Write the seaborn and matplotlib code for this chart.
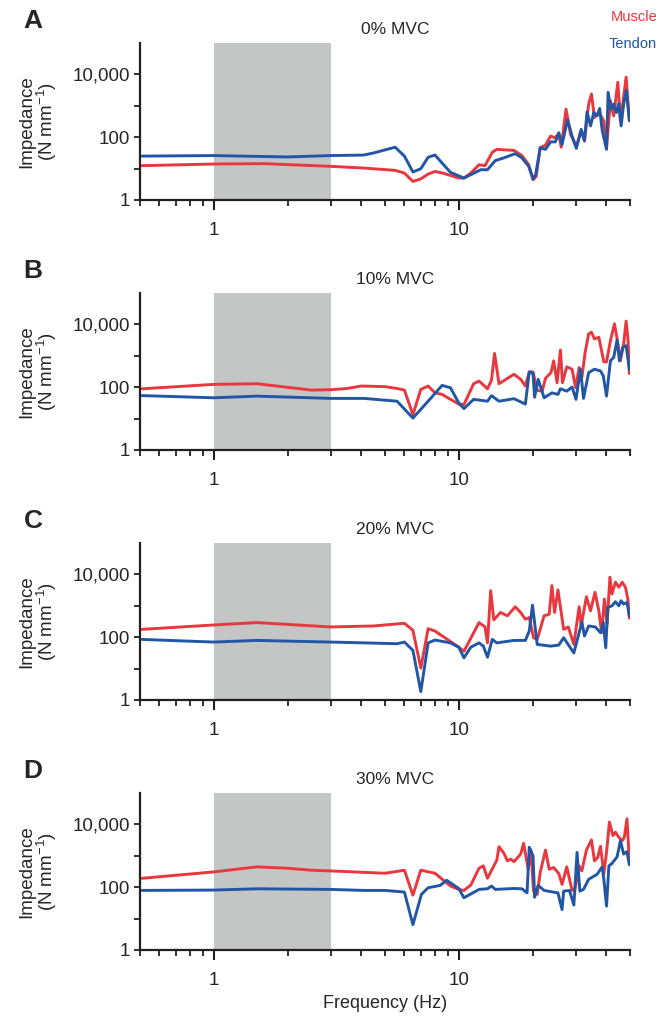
import matplotlib
matplotlib.use("Agg")
import matplotlib.pyplot as plt
from matplotlib.ticker import FixedLocator, FixedFormatter, NullFormatter
import pandas as pd
import seaborn as sns

# Impedance spectra (N/mm), per contraction level
freq_muscle_a = [0.51, 1.0, 1.6, 3.0, 4.1, 5.5, 6.0, 6.5, 7.0, 7.5, 8.0, 8.6, 10.0, 10.5, 11.2, 12.1, 12.8,
                 13.7, 14.3, 16.8, 18.1, 19.3, 20.1, 20.7, 21.5, 22.6, 23.7, 24.6, 25.6, 26.2, 27.4, 28.6,
                 30.2, 31.6, 32.6, 33.9, 34.8, 35.8, 37.3, 39.1, 40.1, 41.6, 42.9, 44.6, 45.7, 46.9, 48.2, 49.7]
z_muscle_a = [12.4, 14, 14.4, 11.8, 10.4, 8.8, 7.2, 3.9, 4.7, 6.7, 8.1, 7.2, 5.0, 5.0, 7.2, 13.3, 12.4,
              33, 41, 38, 26, 13.3, 4.4, 5.6, 46, 56, 109, 96, 123, 48, 783, 123,
              52, 157, 75, 1135, 2380, 423, 612, 330, 46, 1450, 479, 5640, 330, 1450, 8170, 330]
freq_tendon_a = [0.51, 1.0, 2.0, 3.0, 4.1, 4.5, 5.5, 6.0, 6.5, 7.0, 7.5, 8.0, 8.55, 9.25, 10.5, 12.3, 13.1,
                 14.1, 15.3, 17.0, 18.1, 19.3, 20.1, 20.6, 21.5, 22.6, 23.7, 24.8, 25.6, 26.4, 27.8, 29.0,
                 30.2, 31.6, 32.6, 33.4, 34.5, 35.6, 36.7, 37.6, 38.5, 40.1, 40.7, 41.8, 42.9, 44.0, 45.0,
                 46.0, 47.1, 48.3, 49.7]
z_tendon_a = [25, 26, 23.5, 26, 27, 31.6, 48, 25, 7.8, 9.9, 23, 27, 15, 7.6, 5.0, 9.2, 9.2,
              18, 22, 30, 22, 11.8, 4.7, 6.4, 46, 41, 71, 71, 139, 59, 356, 109,
              44, 178, 79, 643, 228, 612, 479, 823, 166, 41, 2690, 783, 1135, 612, 1190,
              228, 1135, 3040, 347]

freq_muscle_b = [0.51, 1.0, 1.5, 2.5, 3.0, 3.5, 4.0, 5.0, 5.6, 6.0, 6.5, 7.0, 7.5, 8.0, 8.55, 9.25, 10.0,
                 10.5, 11.5, 12.1, 13.1, 13.6, 14.0, 14.6, 16.8, 17.9, 18.7, 19.4, 20.1, 20.9, 21.9, 22.6,
                 23.8, 24.4, 25.2, 26.0, 26.5, 27.6, 29.0, 30.0, 31.0, 31.8, 32.8, 33.9, 34.8, 35.8, 37.3,
                 39.1, 40.1, 41.6, 43.2, 44.3, 45.7, 47.1, 48.2, 49.1, 49.7]
z_muscle_b = [89, 123, 129, 81, 83, 91, 109, 104, 91, 81, 13.3, 85, 109, 66, 59, 41, 29,
              28, 129, 157, 89, 166, 1190, 129, 258, 178, 109, 307, 307, 79, 75, 192,
              292, 692, 139, 1525, 139, 444, 374, 96, 423, 201, 1283, 4990, 5640, 3440, 3900,
              643, 640, 3040, 10450, 3440, 692, 2380, 12700, 3040, 271]
freq_tendon_b = [0.51, 1.0, 1.5, 3.0, 4.1, 5.6, 6.5, 7.5, 8.55, 9.25, 10.0, 10.5, 11.5, 13.1, 13.6, 14.6,
                 16.8, 18.7, 19.4, 20.1, 20.4, 21.1, 22.3, 24.0, 25.4, 26.0, 27.6, 29.0, 30.1, 31.4, 32.3,
                 33.9, 35.8, 37.9, 38.9, 40.1, 41.6, 42.9, 44.3, 45.3, 46.7, 48.2, 49.7]
z_tendon_b = [54, 46, 52, 44, 44, 35.8, 10.4, 35.8, 114, 96, 31.6, 20.8, 41, 35.8, 54, 35.8,
              43, 29, 307, 271, 48, 178, 46, 66, 59, 89, 75, 101, 41, 374, 44,
              292, 374, 330, 228, 52, 692, 886, 3200, 692, 1858, 2100, 374]

freq_muscle_c = [0.51, 1.0, 1.5, 3.0, 4.5, 6.0, 6.5, 7.0, 7.5, 8.0, 10.0, 10.5, 12.1, 12.8, 13.1, 13.5,
                 13.9, 14.8, 15.8, 17.0, 17.9, 18.7, 19.4, 20.2, 20.9, 22.3, 23.4, 24.0, 24.6, 25.4, 26.2,
                 26.8, 28.0, 29.5, 31.0, 31.6, 33.2, 34.5, 36.0, 37.3, 38.3, 39.3, 40.3, 41.4, 42.2, 43.6,
                 45.0, 46.5, 47.9, 49.0, 49.7]
z_muscle_c = [178, 245, 292, 212, 228, 278, 166, 10.4, 187, 157, 48, 35.8, 292, 212, 66, 3040,
              356, 612, 479, 931, 612, 374, 423, 96, 85, 479, 539, 4410, 612, 3200, 612,
              178, 212, 59, 931, 228, 1950, 692, 2690, 692, 139, 1640, 258, 8170, 2380, 5640,
              3900, 5640, 3900, 1640, 402]
freq_tendon_c = [0.51, 1.0, 1.5, 3.0, 4.1, 5.6, 6.0, 6.5, 7.0, 7.5, 8.0, 9.25, 10.0, 10.5, 11.2, 12.1,
                 12.6, 13.1, 13.7, 14.3, 16.8, 18.7, 19.4, 20.0, 20.9, 23.7, 25.6, 26.8, 29.5, 31.0, 31.8,
                 32.6, 33.9, 36.1, 37.9, 38.9, 39.8, 40.6, 42.2, 43.6, 45.0, 46.0, 47.1, 48.6, 49.7]
z_tendon_c = [85, 70, 79, 70, 66, 62, 70, 38, 1.85, 66, 81, 66, 48, 22, 48, 66,
              52, 23, 85, 66, 79, 79, 157, 1052, 59, 52, 56, 96, 31.6, 139, 307,
              109, 228, 212, 139, 292, 46, 886, 1002, 1350, 1002, 1450, 1135, 1283, 479]

freq_muscle_d = [0.51, 1.0, 1.5, 2.0, 2.5, 3.0, 5.0, 6.0, 6.5, 7.0, 8.0, 9.25, 10.0, 10.5, 11.2, 12.1,
                 12.6, 13.1, 14.3, 14.6, 15.3, 15.8, 16.3, 16.8, 17.9, 18.4, 19.2, 19.7, 20.2, 20.9, 21.5,
                 22.6, 23.4, 24.4, 25.6, 26.4, 27.6, 29.0, 29.8, 31.0, 31.8, 33.2, 34.8, 35.8, 36.9, 37.9,
                 39.1, 40.1, 41.2, 42.6, 43.6, 45.0, 46.5, 47.4, 48.6, 49.7]
z_muscle_d = [192, 307, 444, 402, 347, 330, 278, 347, 56, 347, 278, 109, 85, 79, 117, 402,
              479, 192, 727, 1950, 1190, 692, 783, 652, 1135, 2500, 374, 1525, 75, 59, 292,
              1525, 374, 423, 271, 123, 444, 79, 85, 479, 330, 1525, 3200, 692, 886, 2000,
              271, 1283, 11820, 4410, 5640, 3900, 3040, 3900, 15140, 692]
freq_tendon_d = [0.51, 1.0, 1.5, 3.0, 4.1, 5.0, 6.0, 6.5, 7.04, 7.5, 8.4, 8.93, 10.0, 10.5, 12.1, 13.1,
                 13.6, 14.1, 16.8, 18.1, 19.0, 19.4, 20.1, 20.4, 21.1, 22.3, 24.0, 25.4, 26.4, 26.8, 28.3,
                 29.5, 30.4, 31.2, 32.3, 33.9, 36.7, 38.5, 39.1, 40.1, 41.0, 42.2, 44.3, 45.7, 47.1, 48.6,
                 49.7]
z_tendon_d = [79, 81, 89, 85, 79, 79, 70, 6.4, 59, 96, 114, 166, 91, 46, 85, 89,
              109, 85, 91, 89, 66, 1858, 1002, 48, 114, 79, 71, 66, 19.3, 75, 79,
              27, 1283, 75, 85, 178, 258, 444, 178, 25, 479, 568, 931, 3040, 1135, 1350,
              515]

panel_letters = ["A", "B", "C", "D"]
panel_titles = ["0% MVC", "10% MVC", "20% MVC", "30% MVC"]
series_names = ["Muscle", "Tendon"]
shaded_band = (1, 3)  # Hz

RED = "#e8373e"
BLUE = "#2156a5"
GREY = "#c4c5c5"

sns.set_style("ticks")
plt.rcParams["font.family"] = ["Liberation Sans", "DejaVu Sans"]
plt.rcParams["mathtext.fontset"] = "custom"
plt.rcParams["mathtext.rm"] = "Liberation Sans"
plt.rcParams["mathtext.it"] = "Liberation Sans"

panels = [
    (freq_muscle_a, z_muscle_a, freq_tendon_a, z_tendon_a),
    (freq_muscle_b, z_muscle_b, freq_tendon_b, z_tendon_b),
    (freq_muscle_c, z_muscle_c, freq_tendon_c, z_tendon_c),
    (freq_muscle_d, z_muscle_d, freq_tendon_d, z_tendon_d),
]

W, H = 659, 1023
fig = plt.figure(figsize=(W / 100, H / 100), dpi=100)

ax_left, ax_right = 140, 630
ax_tops = [43, 293, 543, 793]
ax_h = 157

for i, (fm, zm, ft, zt) in enumerate(panels):
    top = ax_tops[i]
    ax = fig.add_axes([ax_left / W, 1 - (top + ax_h) / H, (ax_right - ax_left) / W, ax_h / H])
    ax.set_xscale("log")
    ax.set_yscale("log")

    df = pd.concat([
        pd.DataFrame({"freq": fm, "impedance": zm, "series": series_names[0]}),
        pd.DataFrame({"freq": ft, "impedance": zt, "series": series_names[1]}),
    ], ignore_index=True)

    ax.axvspan(*shaded_band, color=GREY, lw=0, zorder=0)
    sns.lineplot(data=df, x="freq", y="impedance", hue="series", hue_order=series_names,
                 palette={"Muscle": RED, "Tendon": BLUE}, estimator=None, sort=False,
                 legend=False, linewidth=2.1, ax=ax, zorder=2)

    ax.set_xlim(0.5, 50)
    ax.set_ylim(1, 1e5)

    # x ticks: labelled 1 and 10, unlabelled minors
    ax.xaxis.set_major_locator(FixedLocator([1, 10]))
    ax.xaxis.set_major_formatter(FixedFormatter(["1", "10"]))
    ax.xaxis.set_minor_locator(FixedLocator([0.5, 0.6, 0.7, 0.8, 0.9, 2, 3, 4, 5, 6, 7, 8, 9,
                                             20, 30, 40, 50]))
    ax.xaxis.set_minor_formatter(NullFormatter())
    ax.yaxis.set_major_locator(FixedLocator([1, 100, 10000]))
    ax.yaxis.set_major_formatter(FixedFormatter(["1", "100", "10,000"]))
    ax.yaxis.set_minor_locator(FixedLocator([10, 1000]))
    ax.yaxis.set_minor_formatter(NullFormatter())

    ax.tick_params(axis="x", which="major", length=7.5, width=1.5, pad=8, labelsize=13.5, color="#231f20")
    ax.tick_params(axis="x", which="minor", length=4, width=1.3, color="#231f20")
    ax.tick_params(axis="y", which="both", length=4, width=1.3, pad=3, labelsize=13.5, color="#231f20")

    sns.despine(ax=ax)
    for side in ["left", "bottom"]:
        ax.spines[side].set_linewidth(1.6)
        ax.spines[side].set_color("#231f20")

    ax.set_ylabel("Impedance\n(N mm$^{-1}$)", fontsize=13.5, labelpad=10, linespacing=1.0)
    if i == 3:
        ax.set_xlabel("Frequency (Hz)", fontsize=13, labelpad=5)
    else:
        ax.set_xlabel("")

    ax.text(0.52, 1 + 14 / ax_h, panel_titles[i], transform=ax.transAxes,
            ha="center", va="center", fontsize=12.5)
    fig.text(33 / W, 1 - (top - 22) / H, panel_letters[i], ha="center", va="center",
             fontsize=19, fontweight="bold")

fig.text(657 / W, 1 - 17 / H, "Muscle", color=RED, ha="right", va="center", fontsize=10.5)
fig.text(657 / W, 1 - 44 / H, "Tendon", color=BLUE, ha="right", va="center", fontsize=10.5)

fig.savefig("out.png", dpi=100)
